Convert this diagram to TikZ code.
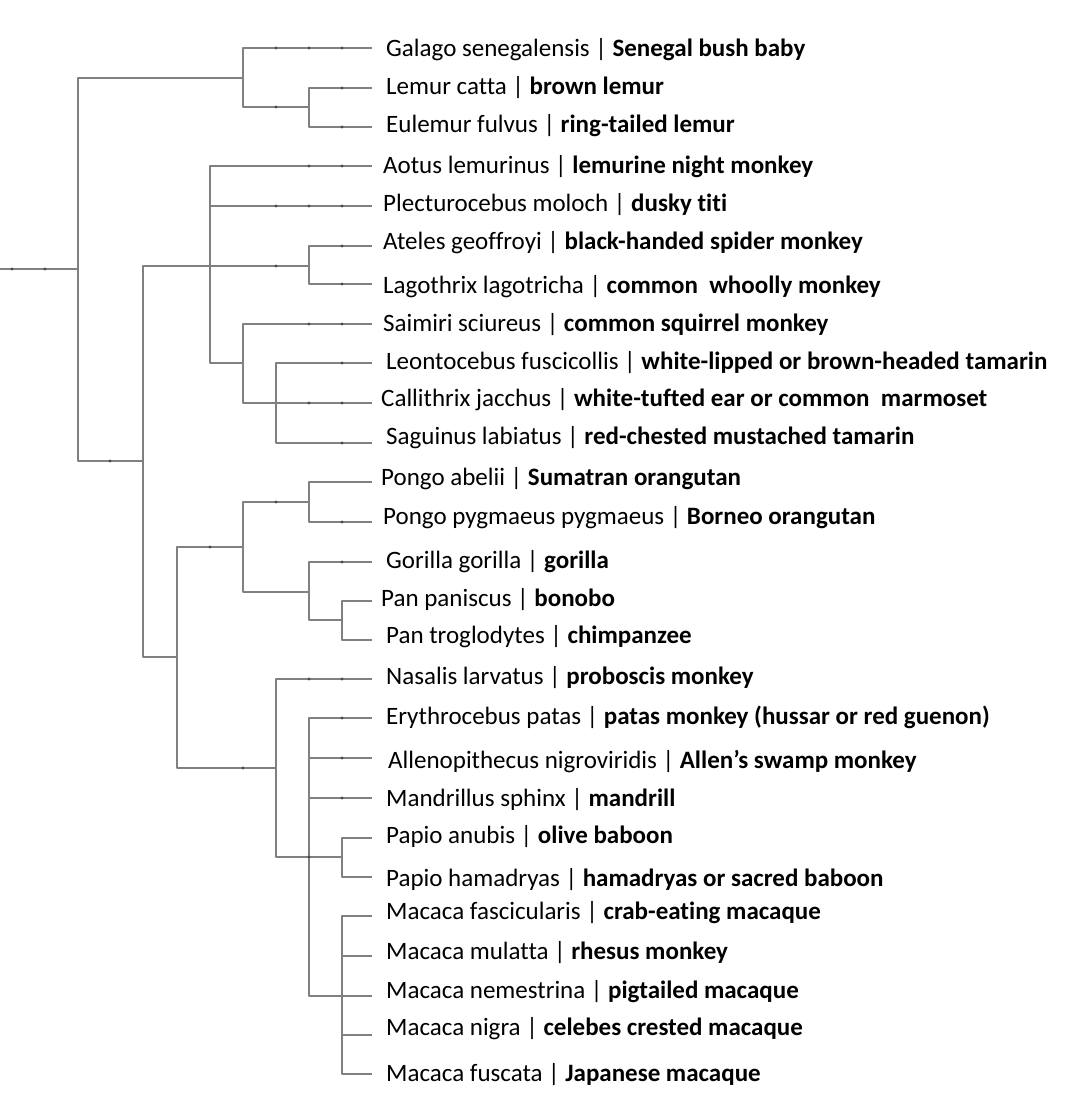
\documentclass[tikz,border=0pt]{standalone}
\usepackage{fontspec}
\setmainfont{Carlito}[Ligatures=NoCommon]
\usetikzlibrary{positioning}
\tikzset{
  branch/.style={ draw=black!50, line width=2.6pt, line join=round }
}
\tikzset{
  tipl/.style={ anchor=west, inner sep=0pt, text height=16pt, text depth=0pt, font=\fontsize{25}{30}\selectfont }
}
\tikzset{
  rankdot/.style={ fill=black!70 }
}
\begin{document}
\begin{tikzpicture}[x=1pt, y=-1pt]
      \useasboundingbox (0,0) rectangle (1070,1103);

      % inner nodes of the tree
      \coordinate (start) at (0, 269);
      \coordinate (root) at (78, 269);
      \coordinate (strep) at (243, 78);
      \coordinate (lemurn) at (309, 107);
      \coordinate (anth) at (143, 461);
      \coordinate (plat) at (210, 266);
      \coordinate (atel) at (309, 266);
      \coordinate (cebid) at (243, 363);
      \coordinate (callit) at (276, 403);
      \coordinate (catar) at (177, 657);
      \coordinate (homin) at (243, 547);
      \coordinate (pongon) at (309, 502);
      \coordinate (hominae) at (309, 592);
      \coordinate (pann) at (342, 620);
      \coordinate (cercop) at (276, 768);
      \coordinate (cercin) at (309, 857);
      \coordinate (papion) at (342, 857);
      \coordinate (macn) at (342, 996);

      % tips
      \coordinate (galago) at (372, 48);
      \coordinate (lcatta) at (372, 88);
      \coordinate (efulvus) at (372, 127);
      \coordinate (aotus) at (372, 166);
      \coordinate (plec) at (372, 206);
      \coordinate (ateles) at (372, 246);
      \coordinate (lago) at (372, 284);
      \coordinate (saimiri) at (372, 324);
      \coordinate (leonto) at (372, 363);
      \coordinate (callith) at (372, 403);
      \coordinate (saguinus) at (372, 443);
      \coordinate (pabelii) at (372, 482);
      \coordinate (ppyg) at (372, 522);
      \coordinate (gorilla) at (372, 562);
      \coordinate (panisc) at (372, 601);
      \coordinate (ptrog) at (372, 640);
      \coordinate (nasalis) at (372, 679);
      \coordinate (eryth) at (372, 718);
      \coordinate (allen) at (372, 758);
      \coordinate (mandr) at (372, 798);
      \coordinate (panubis) at (372, 838);
      \coordinate (pham) at (372, 877);
      \coordinate (mfasc) at (372, 916);
      \coordinate (mmul) at (372, 956);
      \coordinate (mnem) at (372, 996);
      \coordinate (mnig) at (372, 1035);
      \coordinate (mfus) at (372, 1074);

      \begin{scope}[branch]
        \draw (start) -- (root);
        \foreach \c in {strep, anth} \draw (root) |- (\c);
        \foreach \c in {galago, lemurn} \draw (strep) |- (\c);
        \foreach \c in {lcatta, efulvus} \draw (lemurn) |- (\c);
        \foreach \c in {plat, catar} \draw (anth) |- (\c);
        \foreach \c in {aotus, plec, atel, cebid} \draw (plat) |- (\c);
        \foreach \c in {ateles, lago} \draw (atel) |- (\c);
        \foreach \c in {saimiri, callith} \draw (cebid) |- (\c);
        \foreach \c in {leonto, saguinus} \draw (callit) |- (\c);
        \foreach \c in {homin, cercop} \draw (catar) |- (\c);
        \foreach \c in {pongon, hominae} \draw (homin) |- (\c);
        \foreach \c in {pabelii, ppyg} \draw (pongon) |- (\c);
        \foreach \c in {gorilla, pann} \draw (hominae) |- (\c);
        \foreach \c in {panisc, ptrog} \draw (pann) |- (\c);
        \foreach \c in {nasalis, papion} \draw (cercop) |- (\c);
        \foreach \c in {eryth, allen, mandr, macn} \draw (cercin) |- (\c);
        \foreach \c in {panubis, pham} \draw (papion) |- (\c);
        \foreach \c in {mfasc, mmul, mnem, mnig, mfus} \draw (macn) |- (\c);
      \end{scope}

      % rank marks on the branches
      \foreach \x/\y in {12/269, 45/269, 276/48, 309/48, 342/48, 276/107, 342/88, 342/127,
          309/166, 342/166, 276/206, 309/206, 342/206, 276/266, 342/246, 342/284,
          309/324, 342/324, 342/363, 309/403, 342/403, 342/443, 110/461, 210/547,
          276/502, 342/522, 342/562, 309/679, 342/679, 342/718, 342/758, 243/768,
          342/798, 309/857}
        \fill[rankdot] (\x,\y) circle (1.7pt);

      \node[tipl] (galagoL) at (386, 48) {Galago senegalensis | \textbf{Senegal bush baby}};
      \node[tipl] (lcattaL) at (386, 86) {Lemur catta | \textbf{brown lemur}};
      \node[tipl] (efulvusL) at (386, 124) {Eulemur fulvus | \textbf{ring-tailed lemur}};
      \node[tipl] (aotusL) at (383, 165) {Aotus lemurinus | \textbf{lemurine night monkey}};
      \node[tipl] (plecL) at (383, 203) {Plecturocebus moloch | \textbf{dusky titi}};
      \node[tipl] (atelesL) at (383, 241) {Ateles geoffroyi | \textbf{black-handed spider monkey}};
      \node[tipl] (lagoL) at (383, 285) {Lagothrix lagotricha | \textbf{common\ \ whoolly monkey}};
      \node[tipl] (saimiriL) at (383, 323) {Saimiri sciureus | \textbf{common squirrel monkey}};
      \node[tipl] (leontoL) at (386, 361) {Leontocebus fuscicollis | \textbf{white-lipped or brown-headed tamarin}};
      \node[tipl] (callithL) at (381, 398) {Callithrix jacchus | \textbf{white-tufted ear or common\ \ marmoset}};
      \node[tipl] (saguinusL) at (386, 436) {Saguinus labiatus | \textbf{red-chested mustached tamarin}};
      \node[tipl] (pabeliiL) at (381, 477) {Pongo abelii | \textbf{Sumatran orangutan}};
      \node[tipl] (ppygL) at (383, 516) {Pongo pygmaeus pygmaeus | \textbf{Borneo orangutan}};
      \node[tipl] (gorillaL) at (386, 560) {Gorilla gorilla | \textbf{gorilla}};
      \node[tipl] (paniscL) at (381, 598) {Pan paniscus | \textbf{bonobo}};
      \node[tipl] (ptrogL) at (386, 635) {Pan troglodytes | \textbf{chimpanzee}};
      \node[tipl] (nasalisL) at (386, 676) {Nasalis larvatus | \textbf{proboscis monkey}};
      \node[tipl] (erythL) at (386, 716) {Erythrocebus patas | \textbf{patas monkey (hussar or red guenon)}};
      \node[tipl] (allenL) at (388, 760) {Allenopithecus nigroviridis | \textbf{Allen’s swamp monkey}};
      \node[tipl] (mandrL) at (386, 798) {Mandrillus sphinx | \textbf{mandrill}};
      \node[tipl] (panubisL) at (386, 835) {Papio anubis | \textbf{olive baboon}};
      \node[tipl] (phamL) at (386, 878) {Papio hamadryas | \textbf{hamadryas or sacred baboon}};
      \node[tipl] (mfascL) at (386, 911) {Macaca fascicularis | \textbf{crab-eating macaque}};
      \node[tipl] (mmulL) at (386, 951) {Macaca mulatta | \textbf{rhesus monkey}};
      \node[tipl] (mnemL) at (386, 990) {Macaca nemestrina | \textbf{pigtailed macaque}};
      \node[tipl] (mnigL) at (386, 1027) {Macaca nigra | \textbf{celebes crested macaque}};
      \node[tipl] (mfusL) at (386, 1073) {Macaca fuscata | \textbf{Japanese macaque}};
\end{tikzpicture}
\end{document}
